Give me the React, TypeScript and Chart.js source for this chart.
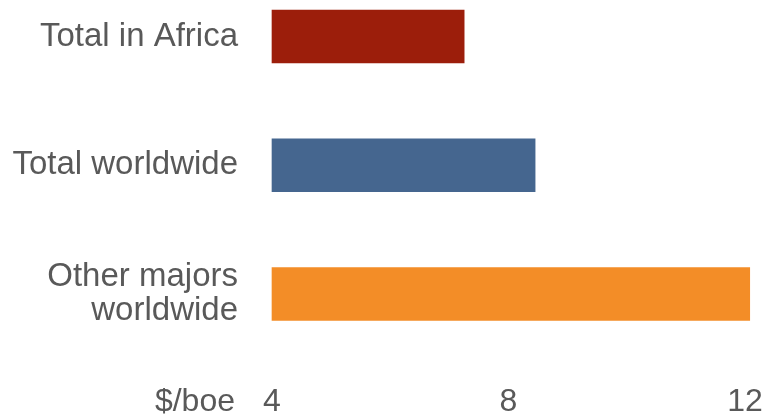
import React, { useEffect, useRef } from "react";
import { Chart, registerables } from "chart.js";

Chart.register(...registerables);

const categories: (string | string[])[] = ["Total in Africa", "Total worldwide", ["Other majors", "worldwide"]];
const values: number[] = [7.25, 8.45, 12.08];
const barColors: string[] = ["#9C1E0B", "#45668F", "#F38D27"];
const xTicks: number[] = [4, 8, 12];
const unitLabel = "$/boe";

const FONT = "'Liberation Sans', Arial, sans-serif";
const TEXT = "#595959";
const TICK_PAD = 89;
const FONT_SIZE = 32;
const Y_FONT_SIZE = 33;

const unitPlugin = {
  id: "unitLabel",
  afterDraw(chart: any) {
    const { ctx, scales } = chart;
    const xs = scales.x;
    ctx.save();
    ctx.font = `${FONT_SIZE}px ${FONT}`;
    ctx.fillStyle = TEXT;
    ctx.textAlign = "right";
    ctx.textBaseline = "middle";
    ctx.fillText(unitLabel, chart.chartArea.left - 37, xs.top + TICK_PAD + (FONT_SIZE * 1.2) / 2);
    ctx.restore();
  },
};

export default function App() {
  const ref = useRef<HTMLCanvasElement | null>(null);
  useEffect(() => {
    if (!ref.current) return;
    const chart = new Chart(ref.current, {
      type: "bar",
      data: {
        labels: categories,
        datasets: [
          {
            data: values,
            base: 4,
            backgroundColor: barColors,
            barThickness: 53,
            clip: false as any,
          } as any,
        ],
      },
      options: {
        indexAxis: "y",
        animation: false,
        responsive: false,
        layout: { padding: { top: 36.5, bottom: 0, right: 22, left: 0 } },
        plugins: { legend: { display: false }, tooltip: { enabled: false } },
        scales: {
          x: {
            min: 4,
            max: 12,
            afterBuildTicks(axis: any) {
              axis.ticks = xTicks.map((v) => ({ value: v }));
            },
            afterFit(axis: any) {
              axis.height = 123;
              axis.paddingLeft = 0;
              axis.paddingRight = 0;
              axis.paddingTop = 0;
              axis.paddingBottom = 0;
            },
            grid: { display: false, drawTicks: false },
            border: { display: false },
            ticks: {
              padding: TICK_PAD,
              color: TEXT,
              font: { family: FONT, size: FONT_SIZE },
              maxRotation: 0,
              autoSkip: false,
            },
          },
          y: {
            offset: false,
            grid: { display: false, drawTicks: false },
            border: { display: false },
            afterFit(axis: any) {
              axis.width = 272;
              axis.paddingTop = 0;
              axis.paddingBottom = 0;
              axis.paddingLeft = 0;
              axis.paddingRight = 0;
            },
            ticks: {
              padding: 34,
              color: TEXT,
              font: { family: FONT, size: Y_FONT_SIZE, lineHeight: 1.05 },
            },
          },
        },
      },
      plugins: [unitPlugin],
    });
    return () => chart.destroy();
  }, []);
  return (
    <div style={{ position: "fixed", left: 0, top: 0, width: 767, height: 417, background: "#fff" }}>
      <canvas ref={ref} width={767} height={417} style={{ display: "block" }} />
    </div>
  );
}
